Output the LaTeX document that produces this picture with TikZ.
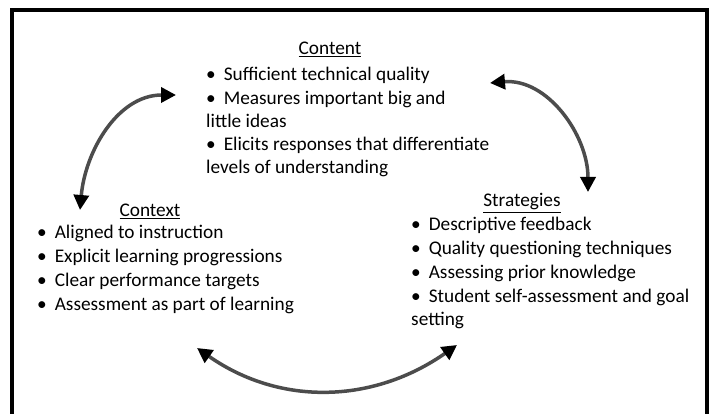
\documentclass[tikz,border=0pt]{standalone}
\usepackage{fontspec}
\setmainfont{Carlito}
\usepackage{tikz}
\usetikzlibrary{arrows.meta}

\tikzset{
  head/.style={anchor=base, inner sep=0pt, font=\fontsize{19.3}{22}\selectfont},
  block/.style={anchor=base west, inner sep=0pt, align=left},
  bendarrow/.style={line width=3.5pt, black!70,
    {Triangle[length=15pt,width=15pt,color=black]}-{Triangle[length=15pt,width=15pt,color=black]}},
}
\newcommand{\itm}{\textbullet\hspace{8pt}}

\begin{document}
\begin{tikzpicture}[x=1pt,y=1pt]
    \useasboundingbox (0,0) rectangle (714,414);
    % open frame
    \draw[line width=4pt] (12,-2) -- (12,404) -- (707,404) -- (707,-2);

    % the three blocks (base = last line)
    \node[head] (content-head) at (330,359) {\underline{Content}};
    \node[block, font=\fontsize{19.3}{23.25}\selectfont] (content) at (206,240) {\itm Sufficient technical quality\\
        \itm Measures important big and\\ little ideas\\
        \itm Elicits responses that differentiate\\ levels of understanding};

    \node[head] (context-head) at (150,197) {\underline{Context}};
    \node[block, font=\fontsize{19.3}{24}\selectfont] (context) at (37,103) {\itm Aligned to instruction\\
        \itm Explicit learning progressions\\
        \itm Clear performance targets\\
        \itm Assessment as part of learning};

    \node[head] (strategies-head) at (522,207) {\underline{Strategies}};
    \node[block, font=\fontsize{19.3}{23.75}\selectfont] (strategies) at (411,88) {\itm Descriptive feedback\\
        \itm Quality questioning techniques\\
        \itm Assessing prior knowledge\\
        \itm Student self-assessment and goal\\ setting};

    % arrow ends
    \coordinate (context-top) at (80,204);
    \coordinate (content-left) at (176,319);
    \coordinate (content-right) at (490,331);
    \coordinate (strategies-top) at (588,222);
    \coordinate (context-low) at (197,66);
    \coordinate (strategies-low) at (457,69);

    \draw[bendarrow] (context-top) to[out=85,in=180] (content-left);
    \draw[bendarrow] (content-right) to[out=5,in=90] (strategies-top);
    \draw[bendarrow] (context-low) to[out=-35,in=215] (strategies-low);
\end{tikzpicture}
\end{document}
